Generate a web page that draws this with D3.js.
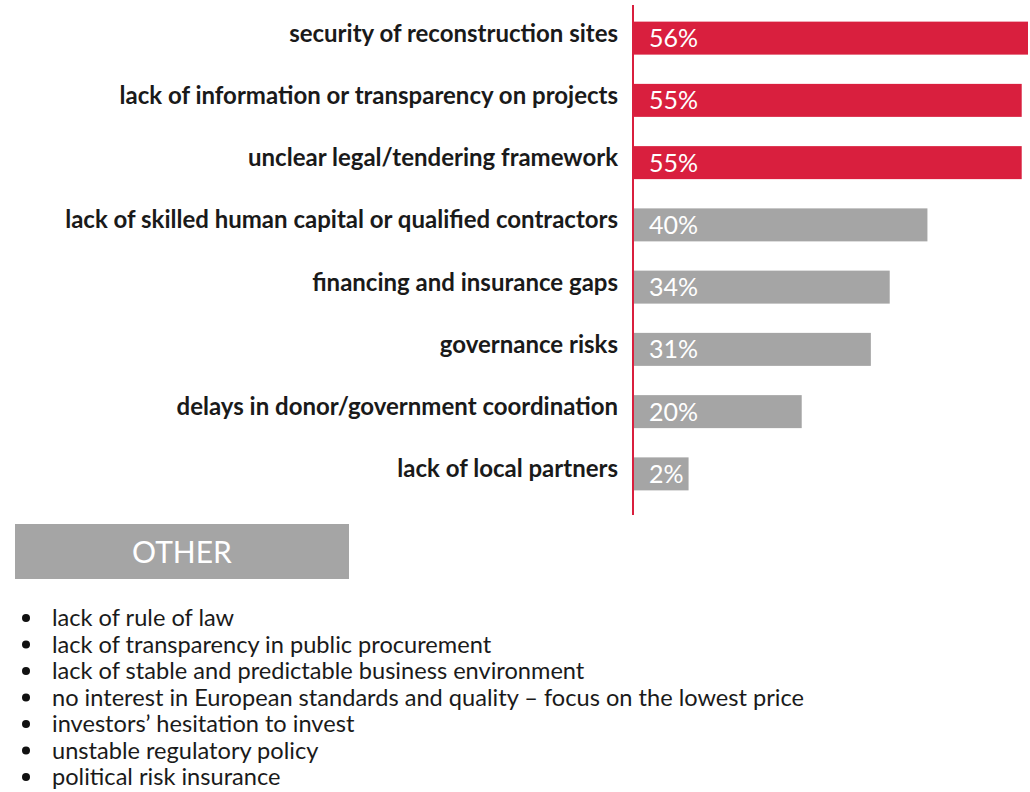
<!DOCTYPE html>
<html>
<head>
<meta charset="utf-8">
<script src="https://cdn.jsdelivr.net/npm/d3@7"></script>
<style>
  html, body { margin: 0; padding: 0; background: #fff; }
  svg { display: block; font-family: Lato, "Open Sans", sans-serif; }
</style>
</head>
<body>
<div id="chart"></div>
<script>
// barriers to reconstruction (share of respondents)
var categories = [
	"security of reconstruction sites",
	"lack of information or transparency on projects",
	"unclear legal/tendering framework",
	"lack of skilled human capital or qualified contractors",
	"financing and insurance gaps",
	"governance risks",
	"delays in donor/government coordination",
	"lack of local partners"
];
var values = [56, 55, 55, 40, 34, 31, 20, 2];

var otherTitle = "OTHER";
var otherItems = [
	"lack of rule of law",
	"lack of transparency in public procurement",
	"lack of stable and predictable business environment",
	"no interest in European standards and quality \u2013 focus on the lowest price",
	"investors\u2019 hesitation to invest",
	"unstable regulatory policy",
	"political risk insurance"
];

var width = 1030, height = 792;
var axisX = 633;
var red = "#d91f3e", gray = "#a5a5a5";

var svg = d3.select("#chart").append("svg")
	.attr("width", width)
	.attr("height", height);

// bar length scale (bars start at the axis)
var len = d3.scaleLinear()
	.domain([0, 56])
	.range([42, 394]);

var y = d3.scaleBand()
	.domain(categories)
	.range([7, 505])
	.paddingInner(0.47)
	.paddingOuter(0.235);

var color = d3.scaleThreshold()
	.domain([50])
	.range([gray, red]);

var rows = svg.selectAll(".row")
	.data(categories.map(function (c, i) { return { name: c, value: values[i] }; }))
	.enter().append("g")
	.attr("class", "row");

rows.append("rect")
	.attr("x", axisX + 1)
	.attr("y", function (d) { return y(d.name); })
	.attr("width", function (d) { return len(d.value); })
	.attr("height", y.bandwidth())
	.attr("fill", function (d) { return color(d.value); });

rows.append("text")
	.attr("x", axisX + 16)
	.attr("y", function (d) { return y(d.name) + y.bandwidth() / 2; })
	.attr("dy", "0.36em")
	.attr("fill", "#fff")
	.style("font-size", "25px")
	.text(function (d) { return d.value + "%"; });

rows.append("text")
	.attr("x", axisX - 15)
	.attr("y", function (d) { return y(d.name) + y.bandwidth() / 2 - 5; })
	.attr("dy", "0.35em")
	.attr("text-anchor", "end")
	.attr("fill", "#1a1a1a")
	.style("font-size", "24px")
	.style("font-weight", 700)
	.text(function (d) { return d.name; });

// vertical axis line
svg.append("line")
	.attr("x1", axisX).attr("x2", axisX)
	.attr("y1", 5).attr("y2", 515)
	.attr("stroke", red)
	.attr("stroke-width", 2);

// OTHER box
svg.append("rect")
	.attr("x", 15).attr("y", 524)
	.attr("width", 334).attr("height", 55)
	.attr("fill", gray);

svg.append("text")
	.attr("x", 182).attr("y", 552)
	.attr("dy", "0.36em")
	.attr("text-anchor", "middle")
	.attr("fill", "#fff")
	.style("font-size", "30px")
	.text(otherTitle);

var listY = d3.scalePoint()
	.domain(d3.range(otherItems.length))
	.range([626, 785]);

var items = svg.selectAll(".item")
	.data(otherItems)
	.enter().append("g")
	.attr("class", "item");

items.append("circle")
	.attr("cx", 26)
	.attr("cy", function (d, i) { return listY(i) - 8; })
	.attr("r", 4)
	.attr("fill", "#111");

items.append("text")
	.attr("x", 52)
	.attr("y", function (d, i) { return listY(i); })
	.attr("fill", "#1a1a1a")
	.style("font-size", "23.6px")
	.text(function (d) { return d; });
</script>
</body>
</html>
